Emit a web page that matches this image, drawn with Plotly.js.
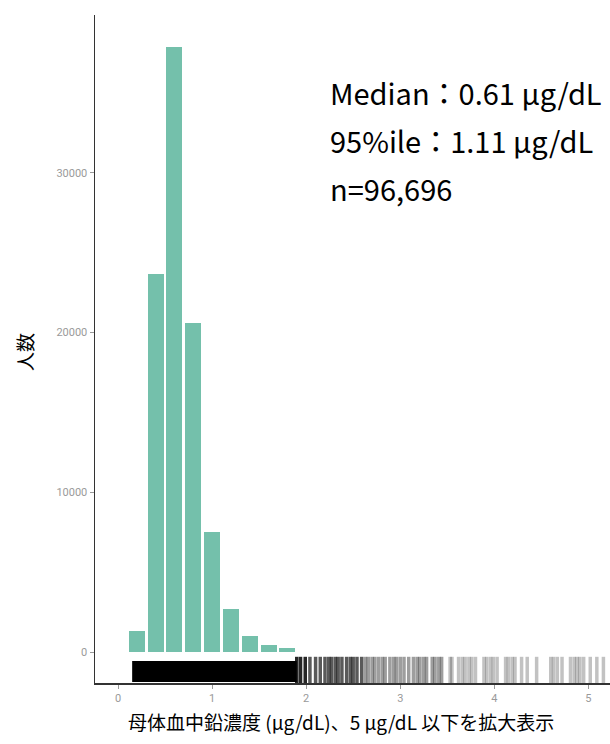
<!DOCTYPE html>
<html>
<head>
<meta charset="utf-8">
<script src="https://cdn.plot.ly/plotly-3.0.1.min.js"></script>
<style>html,body{margin:0;padding:0;background:#fff;}#chart{width:610px;height:744px;}</style>
</head>
<body>
<div id="chart"></div>
<script>
// Histogram bins (bin centre, μg/dL) and counts
const binCenters = [0.2, 0.4, 0.6, 0.8, 1.0, 1.2, 1.4, 1.6, 1.8];
const binCounts  = [1300, 23700, 37900, 20600, 7500, 2700, 1000, 420, 220];

// Rug: the solid dense part and the individually visible lines beyond it
const rugDenseStart = [0.15];
const rugDenseEnd   = [1.90];
const rugValues = [1.90, 1.94, 1.99, 2.04, 2.10, 2.15, 2.20, 2.24, 2.27, 2.31, 2.34, 2.38, 2.43, 2.47, 2.50, 2.54,
  2.59, 2.63, 2.66, 2.70, 2.73, 2.77, 2.81, 2.84, 2.89, 2.93, 2.96, 3.00, 3.04, 3.09, 3.14, 3.18, 3.21, 3.25, 3.28,
  3.34, 3.37, 3.41, 3.44, 3.53, 3.55, 3.62, 3.66, 3.69, 3.73, 3.76, 3.80, 3.89, 3.92, 3.96, 3.99, 4.03,
  4.12, 4.15, 4.19, 4.22, 4.29, 4.35, 4.45, 4.60, 4.63, 4.67, 4.72, 4.81, 4.85, 4.88, 4.91, 4.95, 5.02, 5.09, 5.16];

const yTickVals = [0, 10000, 20000, 30000];
const xTickVals = [0, 1, 2, 3, 4, 5];

const statLines = ['Median：0.61 μg/dL', '95%ile：1.11 μg/dL', 'n=96,696'];
const xTitle = '母体血中鉛濃度 (μg/dL)、5 μg/dL 以下を拡大表示';
const yTitle = '人数';

const rugY = -1220;
const rugColor = v => v < 2.0 ? 'rgba(0,0,0,0.85)' : v < 2.6 ? 'rgba(0,0,0,0.65)' : (v < 3.5 ? 'rgba(0,0,0,0.38)' : 'rgba(0,0,0,0.24)');

const traces = [
  {
    type: 'bar', x: binCenters, y: binCounts, width: 0.17,
    marker: {color: '#74c0ab', line: {width: 0}},
    hoverinfo: 'x+y'
  },
  {
    type: 'scatter', mode: 'lines',
    x: [rugDenseStart[0], rugDenseEnd[0]], y: [rugY, rugY],
    line: {color: '#000', width: 21}, hoverinfo: 'skip'
  },
  {
    type: 'scatter', mode: 'markers',
    x: rugValues, y: rugValues.map(() => rugY),
    marker: {symbol: 'line-ns-open', size: 21, color: rugValues.map(rugColor),
             line: {width: 3.5, color: rugValues.map(rugColor)}},
    hoverinfo: 'x'
  }
];

const ann = statLines.map((t, i) => ({
  xref: 'paper', yref: 'paper', x: 0.452, y: [0.885, 0.813, 0.741][i],
  xanchor: 'left', yanchor: 'middle', text: t, showarrow: false,
  font: {family: '"Noto Sans CJK JP", sans-serif', size: 29, color: '#000'}
}));
ann.push({
  xref: 'paper', yref: 'paper', x: 0.478, y: -0.058, xanchor: 'center', yanchor: 'middle',
  text: xTitle, showarrow: false,
  font: {family: '"Noto Sans CJK JP", sans-serif', size: 19, color: '#000'}
});
ann.push({
  xref: 'paper', yref: 'paper', x: -0.138, y: 0.4955, xanchor: 'center', yanchor: 'middle',
  text: yTitle, showarrow: false, textangle: -90,
  font: {family: '"Noto Sans CJK JP", sans-serif', size: 19, color: '#000'}
});

const layout = {
  width: 610, height: 744,
  margin: {l: 95, r: 0, t: 15, b: 61},
  paper_bgcolor: '#fff', plot_bgcolor: '#fff',
  showlegend: false,
  bargap: 0,
  xaxis: {
    range: [-0.245, 5.23], tickvals: xTickVals, ticktext: xTickVals.map(String),
    showgrid: false, zeroline: false, showline: true, linecolor: '#333', linewidth: 1.5,
    ticks: 'outside', ticklen: 4, tickcolor: '#999', tickwidth: 1,
    tickfont: {family: 'Roboto, sans-serif', size: 11, color: '#9a9a9a'}
  },
  yaxis: {
    range: [-1941, 39887], tickvals: yTickVals, ticktext: yTickVals.map(String),
    showgrid: false, zeroline: false, showline: true, linecolor: '#333', linewidth: 1.5,
    ticks: 'outside', ticklen: 4, tickcolor: '#999', tickwidth: 1,
    tickfont: {family: 'Roboto, sans-serif', size: 11, color: '#9a9a9a'}
  },
  annotations: ann
};

Plotly.newPlot('chart', traces, layout, {displayModeBar: false, staticPlot: true});
</script>
</body>
</html>
